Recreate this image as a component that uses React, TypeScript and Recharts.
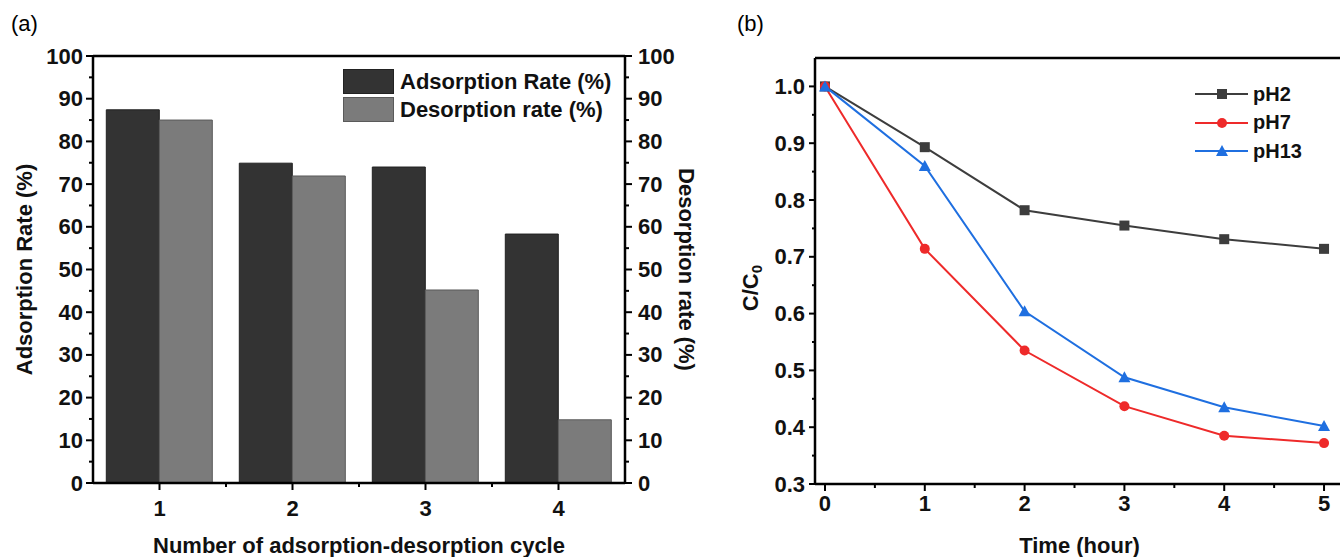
import React from 'react';
import { BarChart, Bar, LineChart, Line, XAxis, YAxis, ReferenceLine, Legend, Label } from 'recharts';

// panel (a): adsorption / desorption per cycle
const cycles = ['1', '2', '3', '4'];
const adsorptionRate = [87.4, 74.9, 74.0, 58.3];
const desorptionRate = [85.0, 71.9, 45.2, 14.8];
const rateTicks = [0, 5, 10, 15, 20, 25, 30, 35, 40, 45, 50, 55, 60, 65, 70, 75, 80, 85, 90, 95, 100];

// panel (b): C/C0 against time
const hours = [0, 1, 2, 3, 4, 5];
const ph2 = [1.0, 0.893, 0.782, 0.755, 0.731, 0.714];
const ph7 = [1.0, 0.714, 0.535, 0.437, 0.385, 0.372];
const ph13 = [1.0, 0.86, 0.604, 0.488, 0.435, 0.402];
const ratioTicks = [0.3, 0.35, 0.4, 0.45, 0.5, 0.55, 0.6, 0.65, 0.7, 0.75, 0.8, 0.85, 0.9, 0.95, 1.0];
const hourTicks = [0, 0.5, 1, 1.5, 2, 2.5, 3, 3.5, 4, 4.5, 5];

const FONT = '"Liberation Sans", Arial, Helvetica, sans-serif';
const INK = '#111';

const barData = cycles.map((c, i) => ({ cycle: c, adsorption: adsorptionRate[i], desorption: desorptionRate[i] }));
const lineData = hours.map((h, i) => ({ t: h, ph2: ph2[i], ph7: ph7[i], ph13: ph13[i] }));

// layout of panel (a)
const A_W = 700;
const A_H = 557;
const A_LEFT = 93;
const A_RIGHT = 625;
const A_TOP = 56;
const A_BOTTOM = 483;

// layout of panel (b), relative to its own box
const B_X = 700;
const B_W = 660;
const B_LEFT = 115;
const B_RIGHT = 644;
const B_TOP = 58;
const B_BOTTOM = 484;

const tickText = { fontFamily: FONT, fontWeight: 700, fontSize: 22, fill: INK };

const LeftRateTick = (props: any) => {
  const { y, payload } = props;
  const v = payload.value;
  const major = v % 10 === 0;
  return (
    <g>
      <line x1={A_LEFT - (major ? 7 : 4)} x2={A_LEFT} y1={y} y2={y} stroke="#000" strokeWidth={2} />
      {major && (
        <text x={A_LEFT - 10} y={y} textAnchor="end" dominantBaseline="central" {...tickText}>
          {v}
        </text>
      )}
    </g>
  );
};

const RightRateTick = (props: any) => {
  const { y, payload } = props;
  const v = payload.value;
  const major = v % 10 === 0;
  return (
    <g>
      <line x1={A_RIGHT} x2={A_RIGHT + (major ? 7 : 4)} y1={y} y2={y} stroke="#000" strokeWidth={2} />
      {major && (
        <text x={A_RIGHT + 13} y={y} textAnchor="start" dominantBaseline="central" {...tickText}>
          {v}
        </text>
      )}
    </g>
  );
};

const CycleTick = (props: any) => {
  const { x, payload, index } = props;
  const half = (A_RIGHT - A_LEFT) / cycles.length / 2;
  return (
    <g>
      <line x1={x} x2={x} y1={A_BOTTOM} y2={A_BOTTOM + 7} stroke="#000" strokeWidth={2} />
      {index < cycles.length - 1 && (
        <line x1={x + half} x2={x + half} y1={A_BOTTOM} y2={A_BOTTOM + 4} stroke="#000" strokeWidth={2} />
      )}
      <text x={x} y={A_BOTTOM + 25} textAnchor="middle" dominantBaseline="central" {...tickText}>
        {payload.value}
      </text>
    </g>
  );
};

const RatioTick = (props: any) => {
  const { y, payload } = props;
  const v = payload.value;
  const major = Math.abs(v * 10 - Math.round(v * 10)) < 1e-6;
  return (
    <g>
      <line x1={B_LEFT - (major ? 6 : 3)} x2={B_LEFT} y1={y} y2={y} stroke="#000" strokeWidth={2} />
      {major && (
        <text x={B_LEFT - 10} y={y} textAnchor="end" dominantBaseline="central" {...tickText}>
          {v.toFixed(1)}
        </text>
      )}
    </g>
  );
};

const HourTick = (props: any) => {
  const { x, payload } = props;
  const v = payload.value;
  const major = Number.isInteger(v);
  return (
    <g>
      <line x1={x} x2={x} y1={B_BOTTOM} y2={B_BOTTOM + (major ? 7 : 4)} stroke="#000" strokeWidth={2} />
      {major && (
        <text x={x} y={B_BOTTOM + 19} textAnchor="middle" dominantBaseline="central" {...tickText}>
          {v}
        </text>
      )}
    </g>
  );
};

const SquareDot = (props: any) => {
  const { cx, cy, index } = props;
  return <rect key={`sq-${index}`} x={cx - 5} y={cy - 5} width={10} height={10} fill="#3d3d3d" />;
};
const CircleDot = (props: any) => {
  const { cx, cy, index } = props;
  return <circle key={`ci-${index}`} cx={cx} cy={cy} r={5} fill="#ee2a2a" />;
};
const TriangleDot = (props: any) => {
  const { cx, cy, index } = props;
  return (
    <polygon key={`tr-${index}`} points={`${cx},${cy - 6} ${cx - 6},${cy + 5} ${cx + 6},${cy + 5}`} fill="#1f6fe0" />
  );
};

const barLegend = [
  { name: 'Adsorption Rate (%)', fill: '#333333', stroke: '#222' },
  { name: 'Desorption rate (%)', fill: '#7b7b7b', stroke: '#5a5a5a' },
];

const BarLegend = () => (
  <div style={{ fontFamily: FONT }}>
    {barLegend.map((it) => (
      <div key={it.name} style={{ display: 'flex', alignItems: 'center', height: 25, marginBottom: 3 }}>
        <div style={{ width: 49, height: 23, background: it.fill, border: `1px solid ${it.stroke}` }} />
        <span style={{ marginLeft: 6, fontSize: 22, fontWeight: 700, color: INK, whiteSpace: 'nowrap' }}>{it.name}</span>
      </div>
    ))}
  </div>
);

const lineLegend = [
  { name: 'pH2', color: '#3d3d3d', shape: 'square' },
  { name: 'pH7', color: '#ee2a2a', shape: 'circle' },
  { name: 'pH13', color: '#1f6fe0', shape: 'triangle' },
];

const LineLegend = () => (
  <div style={{ fontFamily: FONT }}>
    {lineLegend.map((it) => (
      <div key={it.name} style={{ display: 'flex', alignItems: 'center', height: 28.5 }}>
        <svg width={53} height={20}>
          <line x1={0} x2={53} y1={10} y2={10} stroke={it.color} strokeWidth={2} />
          {it.shape === 'square' && <rect x={22} y={5} width={10} height={10} fill={it.color} />}
          {it.shape === 'circle' && <circle cx={27} cy={10} r={5} fill={it.color} />}
          {it.shape === 'triangle' && <polygon points="27,4 21,15 33,15" fill={it.color} />}
        </svg>
        <span style={{ marginLeft: 5, fontSize: 20, fontWeight: 700, color: INK }}>{it.name}</span>
      </div>
    ))}
  </div>
);

const titleStyle = { fontFamily: FONT, fontWeight: 700, fontSize: 22, fill: INK };

const RatioTitle = (props: any) => {
  const vb = props.viewBox;
  const x = vb.x + 50;
  const y = vb.y + vb.height / 2 + 17;
  return (
    <text x={x} y={y} transform={`rotate(-90, ${x}, ${y})`} textAnchor="middle" dominantBaseline="central" {...titleStyle}>
      C/C
      <tspan fontSize={15} dy={6}>0</tspan>
    </text>
  );
};

const panelLabel = { position: 'absolute' as const, fontFamily: FONT, fontSize: 22, lineHeight: '22px', color: '#000' };

export default function App() {
  return (
    <div style={{ position: 'absolute', left: 0, top: 0, width: 1340, height: 557, overflow: 'hidden', background: '#fff' }}>
      <div style={{ ...panelLabel, left: 11, top: 13 }}>(a)</div>
      <div style={{ ...panelLabel, left: 737, top: 13 }}>(b)</div>

      <div style={{ position: 'absolute', left: 0, top: 0 }}>
        <BarChart
          width={A_W}
          height={A_H}
          data={barData}
          margin={{ top: A_TOP, right: 0, bottom: 0, left: 0 }}
          barCategoryGap="10%"
          barGap={0}
        >
          <XAxis
            dataKey="cycle"
            height={A_H - A_BOTTOM}
            axisLine={{ stroke: '#000', strokeWidth: 2.5 }}
            tickLine={false}
            tick={(p: any) => <CycleTick {...p} />}
            interval={0}
          >
            <Label value="Number of adsorption-desorption cycle" position="insideBottom" offset={4} style={titleStyle} />
          </XAxis>
          <YAxis
            yAxisId="left"
            width={A_LEFT}
            domain={[0, 100]}
            ticks={rateTicks}
            interval={0}
            axisLine={{ stroke: '#000', strokeWidth: 2.5 }}
            tickLine={false}
            tick={(p: any) => <LeftRateTick {...p} />}
          >
            <Label
              value="Adsorption Rate (%)"
              angle={-90}
              position="insideLeft"
              offset={24}
              style={{ ...titleStyle, textAnchor: 'middle' }}
            />
          </YAxis>
          <YAxis
            yAxisId="right"
            orientation="right"
            width={A_W - A_RIGHT}
            domain={[0, 100]}
            ticks={rateTicks}
            interval={0}
            axisLine={{ stroke: '#000', strokeWidth: 2.5 }}
            tickLine={false}
            tick={(p: any) => <RightRateTick {...p} />}
          >
            <Label
              value="Desorption rate (%)"
              angle={90}
              position="insideRight"
              offset={13}
              style={{ ...titleStyle, textAnchor: 'middle' }}
            />
          </YAxis>
          <ReferenceLine yAxisId="left" y={100} stroke="#000" strokeWidth={2.5} />
          <Bar yAxisId="left" dataKey="adsorption" name="Adsorption Rate (%)" fill="#333333" stroke="#222" strokeWidth={1} isAnimationActive={false} />
          <Bar yAxisId="right" dataKey="desorption" name="Desorption rate (%)" fill="#7b7b7b" stroke="#5a5a5a" strokeWidth={1} isAnimationActive={false} />
          <Legend
            layout="vertical"
            align="center"
            verticalAlign="middle"
            content={() => <BarLegend />}
            wrapperStyle={{ position: 'absolute', left: 343, top: 69, width: 'auto' }}
          />
        </BarChart>
      </div>

      <div style={{ position: 'absolute', left: B_X, top: 0 }}>
        <LineChart
          width={B_W}
          height={A_H}
          data={lineData}
          margin={{ top: B_TOP, right: B_W - B_RIGHT, bottom: 0, left: 0 }}
        >
          <XAxis
            dataKey="t"
            type="number"
            domain={[-0.1, 5.2]}
            ticks={hourTicks}
            interval={0}
            height={A_H - B_BOTTOM}
            axisLine={{ stroke: '#000', strokeWidth: 2.5 }}
            tickLine={false}
            tick={(p: any) => <HourTick {...p} />}
          >
            <Label value="Time (hour)" position="insideBottom" offset={4} style={titleStyle} />
          </XAxis>
          <YAxis
            type="number"
            width={B_LEFT}
            domain={[0.3, 1.05]}
            ticks={ratioTicks}
            interval={0}
            axisLine={{ stroke: '#000', strokeWidth: 2.5 }}
            tickLine={false}
            tick={(p: any) => <RatioTick {...p} />}
          >
            <Label content={(p: any) => <RatioTitle {...p} />} />
          </YAxis>
          <ReferenceLine y={1.05} stroke="#000" strokeWidth={2.5} />
          <Line dataKey="ph2" name="pH2" stroke="#3d3d3d" strokeWidth={2} dot={(p: any) => <SquareDot {...p} />} activeDot={false} isAnimationActive={false} />
          <Line dataKey="ph7" name="pH7" stroke="#ee2a2a" strokeWidth={2} dot={(p: any) => <CircleDot {...p} />} activeDot={false} isAnimationActive={false} />
          <Line dataKey="ph13" name="pH13" stroke="#1f6fe0" strokeWidth={2} dot={(p: any) => <TriangleDot {...p} />} activeDot={false} isAnimationActive={false} />
          <Legend
            layout="vertical"
            align="center"
            verticalAlign="middle"
            content={() => <LineLegend />}
            wrapperStyle={{ position: 'absolute', left: 495, top: 80, width: 'auto' }}
          />
        </LineChart>
      </div>
    </div>
  );
}
